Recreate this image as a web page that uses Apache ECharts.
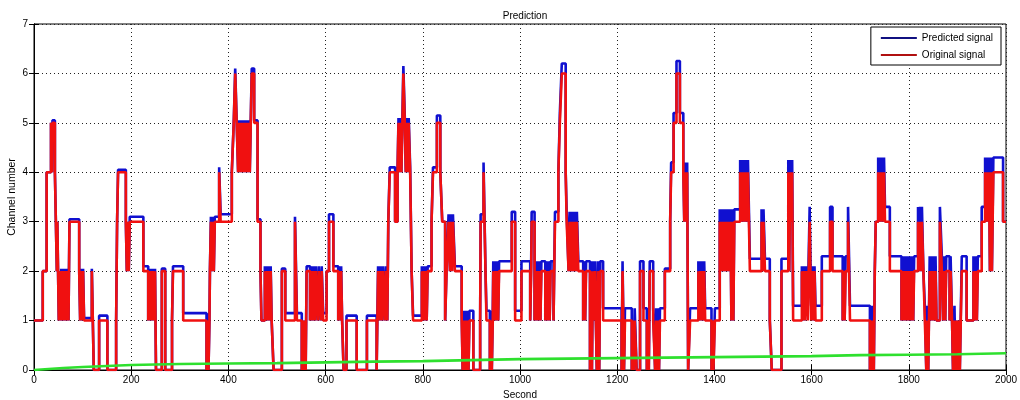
<!DOCTYPE html>
<html>
<head>
<meta charset="utf-8">
<title>Prediction</title>
<script src="https://cdn.jsdelivr.net/npm/echarts@6/dist/echarts.min.js"></script>
<style>
  html, body { margin: 0; padding: 0; background: #fff; }
  #chart { width: 1020px; height: 400px; }
</style>
</head>
<body>
<div id="chart"></div>
<script>
// Breakpoints of the step signals (value holds until the next breakpoint)
const seconds = [
  0, 18, 26, 35, 37, 38, 43, 45, 47, 48, 51, 53,
  54, 56, 57, 59, 61, 63, 65, 66, 68, 70, 71, 73,
  93, 95, 97, 99, 101, 103, 119, 123, 134, 151, 169, 170,
  171, 173, 189, 191, 193, 195, 197, 225, 235, 237, 239, 241,
  243, 245, 247, 249, 251, 263, 270, 284, 286, 307, 355, 357,
  359, 361, 362, 364, 366, 368, 370, 372, 381, 384, 407, 411,
  414, 417, 420, 422, 424, 427, 429, 432, 434, 437, 439, 442,
  444, 446, 448, 453, 460, 466, 468, 475, 477, 479, 481, 483,
  485, 487, 489, 493, 510, 517, 537, 541, 551, 553, 555, 557,
  559, 561, 568, 570, 573, 575, 578, 580, 584, 586, 590, 592,
  595, 602, 607, 616, 626, 628, 630, 632, 634, 637, 643, 664,
  685, 705, 708, 711, 713, 716, 718, 722, 724, 727, 729, 732,
  743, 748, 750, 752, 754, 756, 758, 760, 763, 765, 767, 769,
  771, 774, 777, 780, 798, 800, 802, 804, 806, 808, 810, 818,
  821, 829, 836, 840, 846, 849, 853, 856, 858, 860, 862, 866,
  880, 882, 884, 886, 888, 890, 892, 894, 896, 904, 918, 919,
  925, 929, 931, 938, 940, 942, 944, 945, 947, 949, 951, 953,
  955, 957, 983, 990, 1003, 1021, 1023, 1024, 1030, 1032, 1034, 1036,
  1038, 1040, 1042, 1044, 1052, 1054, 1056, 1058, 1061, 1063, 1069, 1072,
  1079, 1082, 1086, 1094, 1096, 1100, 1102, 1105, 1107, 1110, 1112, 1115,
  1117, 1120, 1130, 1132, 1134, 1136, 1144, 1146, 1148, 1150, 1152, 1154,
  1158, 1160, 1163, 1165, 1171, 1209, 1211, 1214, 1216, 1230, 1232, 1234,
  1236, 1240, 1247, 1254, 1261, 1263, 1265, 1267, 1274, 1278, 1280, 1282,
  1284, 1286, 1288, 1298, 1309, 1311, 1316, 1322, 1329, 1336, 1338, 1340,
  1342, 1344, 1346, 1350, 1367, 1369, 1371, 1373, 1375, 1377, 1379, 1381,
  1394, 1396, 1398, 1401, 1411, 1413, 1415, 1417, 1419, 1421, 1423, 1426,
  1428, 1431, 1433, 1435, 1437, 1439, 1441, 1453, 1455, 1457, 1459, 1461,
  1463, 1465, 1467, 1469, 1473, 1497, 1499, 1501, 1504, 1514, 1518, 1538,
  1552, 1554, 1556, 1558, 1560, 1562, 1580, 1582, 1584, 1586, 1589, 1592,
  1596, 1599, 1602, 1604, 1606, 1608, 1621, 1638, 1643, 1664, 1666, 1668,
  1670, 1675, 1679, 1720, 1722, 1724, 1726, 1728, 1730, 1732, 1737, 1739,
  1741, 1743, 1745, 1747, 1749, 1751, 1761, 1785, 1787, 1789, 1792, 1794,
  1796, 1799, 1801, 1804, 1806, 1809, 1811, 1819, 1821, 1823, 1825, 1827,
  1830, 1833, 1836, 1838, 1840, 1843, 1845, 1847, 1849, 1851, 1853, 1855,
  1857, 1864, 1868, 1871, 1873, 1875, 1877, 1884, 1886, 1889, 1891, 1894,
  1896, 1899, 1901, 1903, 1905, 1909, 1919, 1933, 1935, 1937, 1940, 1942,
  1950, 1957, 1959, 1961, 1963, 1965, 1967, 1969, 1971, 1974, 1994, 2000
];

const original = [
  1, 2, 4, 5, 4, 5, 4, 3, 2, 3, 1, 2,
  1, 2, 1, 2, 1, 2, 1, 2, 1, 2, 1, 3,
  2, 1, 2, 1, 2, 1, 2, 0, 1, 0, 1, 2,
  3, 4, 3, 2, 3, 2, 3, 2, 1, 2, 1, 2,
  1, 2, 1, 2, 0, 2, 0, 1, 2, 1, 0, 1,
  0, 1, 2, 3, 2, 3, 2, 3, 4, 3, 4, 5,
  6, 5, 4, 5, 4, 5, 4, 5, 4, 5, 4, 5,
  4, 5, 6, 5, 3, 2, 1, 2, 1, 2, 1, 2,
  1, 2, 1, 0, 2, 1, 3, 1, 0, 1, 0, 1,
  0, 2, 1, 2, 1, 2, 1, 2, 1, 2, 1, 2,
  1, 2, 3, 2, 1, 2, 1, 2, 1, 0, 1, 0,
  1, 0, 2, 1, 2, 1, 2, 1, 2, 1, 3, 4,
  3, 4, 5, 4, 5, 4, 5, 6, 5, 4, 5, 4,
  5, 4, 2, 1, 2, 1, 2, 1, 2, 1, 2, 3,
  4, 5, 4, 3, 1, 2, 3, 2, 3, 2, 3, 2,
  1, 0, 1, 0, 1, 0, 1, 0, 1, 0, 1, 3,
  4, 2, 1, 0, 1, 0, 1, 2, 1, 2, 1, 2,
  1, 2, 3, 1, 2, 1, 2, 3, 1, 2, 1, 2,
  1, 2, 1, 2, 1, 2, 1, 2, 1, 2, 1, 3,
  4, 5, 6, 4, 3, 2, 3, 2, 3, 2, 3, 2,
  3, 2, 1, 2, 1, 2, 0, 2, 0, 2, 1, 2,
  0, 2, 0, 2, 1, 0, 2, 0, 1, 0, 1, 0,
  1, 0, 2, 1, 0, 1, 0, 2, 1, 0, 1, 0,
  1, 0, 1, 2, 3, 4, 5, 6, 5, 4, 3, 4,
  3, 4, 0, 1, 2, 1, 2, 1, 2, 1, 2, 1,
  0, 1, 0, 1, 3, 2, 3, 2, 3, 2, 3, 2,
  3, 2, 3, 1, 3, 1, 3, 4, 3, 4, 3, 4,
  3, 4, 3, 4, 2, 3, 2, 3, 2, 1, 0, 2,
  4, 2, 4, 3, 4, 1, 2, 1, 2, 1, 2, 1,
  3, 1, 2, 1, 2, 1, 2, 3, 2, 1, 2, 1,
  2, 3, 1, 0, 1, 0, 1, 0, 2, 3, 4, 3,
  4, 3, 4, 3, 4, 3, 2, 1, 2, 1, 2, 1,
  2, 1, 2, 1, 2, 1, 2, 3, 2, 3, 2, 3,
  2, 1, 0, 1, 0, 2, 1, 2, 1, 2, 1, 2,
  1, 3, 2, 1, 2, 1, 2, 1, 2, 1, 0, 1,
  0, 1, 0, 1, 0, 2, 1, 2, 1, 2, 1, 2,
  3, 4, 3, 4, 3, 4, 2, 4, 2, 4, 3, 3
];

const predicted = [
  1, 2, 4, 5, 4, 5.05, 4, 3, 2, 3, 1, 2,
  1, 2.05, 1, 2.05, 1, 2.05, 1, 2.05, 1, 2.05, 1, 3.05,
  2, 1, 2.05, 1, 2.05, 1.05, 2.05, 0, 1.1, 0, 1, 2,
  3, 4.05, 3, 2, 3, 2, 3.1, 2.1, 1, 2.05, 1, 2.05,
  1, 2.05, 1, 2.05, 0, 2.05, 0, 1, 2.1, 1.15, 0, 1.15,
  0, 1, 2, 3.1, 2, 3.1, 2, 3.1, 4.1, 3.15, 4, 5,
  6.1, 5.05, 4, 5.05, 4, 5.05, 4, 5.05, 4, 5.05, 4, 5.05,
  4, 5.05, 6.1, 5.05, 3.05, 2, 1, 2.1, 1, 2.1, 1, 2.1,
  1, 2.1, 1, 0, 2.05, 1.15, 3.1, 1.15, 0, 1, 0, 1,
  0, 2.1, 1, 2.1, 1, 2.1, 1, 2.1, 1, 2.1, 1, 2.1,
  1.15, 2, 3.15, 2.1, 1, 2.1, 1, 2.1, 1, 0, 1.1, 0,
  1.1, 0, 2.1, 1, 2.1, 1, 2.1, 1, 2.1, 1, 3, 4.1,
  3, 4, 5.1, 4, 5.1, 4, 5.1, 6.15, 5.1, 4, 5.1, 4,
  5.1, 4.1, 2, 1.1, 2.1, 1, 2.1, 1, 2.1, 1, 2.1, 3,
  4.1, 5.15, 4, 3, 1, 2.1, 3.15, 2, 3.15, 2, 3.15, 2.1,
  1.2, 0, 1.2, 0, 1.2, 0, 1.2, 0, 1.2, 0, 1, 3.15,
  4.2, 2, 1.2, 0, 1.2, 0, 1.2, 2.2, 1, 2.2, 1, 2.2,
  1, 2.2, 3.2, 1.2, 2.2, 1, 2.2, 3.2, 1, 2.2, 1, 2.2,
  1, 2.2, 1, 2.2, 1, 2.2, 1, 2.2, 1, 2.2, 1, 3.2,
  4, 5.2, 6.2, 4, 3.2, 2, 3.2, 2, 3.2, 2, 3.2, 2,
  3.2, 2.2, 1, 2.2, 1, 2.2, 0, 2.2, 0, 2.2, 1, 2.2,
  0, 2.2, 0, 2.2, 1.25, 0, 2.2, 0, 1.25, 0, 1, 0,
  1.25, 0, 2.2, 1.25, 0, 1, 0, 2.2, 1.25, 0, 1.25, 0,
  1.25, 0, 1.25, 2.05, 3, 4.2, 5.2, 6.25, 5.2, 4.2, 3, 4.2,
  3, 4.2, 0, 1.25, 2.2, 1, 2.2, 1, 2.2, 1, 2.2, 1.25,
  0, 1, 0, 1.25, 3.25, 2, 3.25, 2, 3.25, 2, 3.25, 2,
  3.25, 2, 3.25, 1, 3.25, 1, 3.25, 4.25, 3, 4.25, 3, 4.25,
  3, 4.25, 3, 4.25, 2.25, 3.25, 2, 3.25, 2.25, 1, 0, 2.25,
  4.25, 2, 4.25, 3, 4.25, 1.3, 2.1, 1, 2.1, 1, 2.1, 1.3,
  3.3, 1.3, 2.1, 1, 2.1, 1.3, 2.3, 3.3, 2.3, 1, 2.3, 1,
  2.3, 3.3, 1.3, 0, 1.3, 0, 1.3, 0, 2, 3, 4.3, 3,
  4.3, 3, 4.3, 3, 4.3, 3.3, 2.3, 1, 2.3, 1, 2.3, 1,
  2.3, 1, 2.3, 1, 2.3, 1, 2.3, 3.3, 2, 3.3, 2, 3.3,
  2, 1.3, 0, 1.3, 0, 2.3, 1, 2.3, 1, 2.3, 1, 2.3,
  1, 3.3, 2.3, 1, 2.3, 1, 2.3, 1, 2.3, 1, 0, 1.3,
  0, 1, 0, 1, 0, 2.3, 1, 2.3, 1, 2.3, 1, 2.3,
  3.3, 4.3, 3, 4.3, 3, 4.3, 2, 4.3, 2, 4.3, 3, 3
];

// slowly rising third trace (green)
const errorSeconds = [0, 30, 60, 100, 150, 200, 300, 400, 500, 600, 700, 800,
  900, 1000, 1100, 1200, 1300, 1400, 1500, 1600, 1700, 1800, 1900, 2000];
const errorValues = [0, 0.02, 0.04, 0.06, 0.08, 0.1, 0.12, 0.13, 0.14, 0.155, 0.17, 0.18,
  0.2, 0.22, 0.23, 0.24, 0.25, 0.26, 0.27, 0.28, 0.3, 0.31, 0.32, 0.34];

const xTicks = { min: 0, max: 2000, interval: 200 };
const yTicks = { min: 0, max: 7, interval: 1 };

if (seconds.length !== original.length || seconds.length !== predicted.length) {
  console.warn('length mismatch', seconds.length, original.length, predicted.length);
}

const originalData = seconds.map((t, i) => [t, original[i]]);
const predictedData = seconds.map((t, i) => [t, predicted[i]]);
const errorData = errorSeconds.map((t, i) => [t, errorValues[i]]);

const font = 'Liberation Sans, Arial, sans-serif';
const gridLine = { show: true, lineStyle: { color: '#222', type: [1, 3], width: 1 } };

const chart = echarts.init(document.getElementById('chart'));
chart.setOption({
  animation: false,
  backgroundColor: '#fff',
  title: {
    text: 'Prediction',
    left: 520,
    top: 6,
    textAlign: 'center',
    textStyle: { fontFamily: font, fontSize: 10, fontWeight: 'normal', color: '#000' }
  },
  // y axis title placed by hand (the axis name kept snapping to the edge)
  graphic: [{
    type: 'text',
    x: 12,
    y: 197,
    rotation: Math.PI / 2,
    style: {
      text: 'Channel number',
      align: 'center',
      verticalAlign: 'middle',
      fill: '#000',
      font: '10.5px Liberation Sans, Arial, sans-serif'
    }
  }],
  legend: {
    data: [
      { name: 'Predicted signal', itemStyle: { color: '#101080' } },
      { name: 'Original signal', itemStyle: { color: '#b01010' } }
    ],
    orient: 'vertical',
    right: 19,
    top: 27,
    icon: 'rect',
    itemWidth: 36,
    itemHeight: 2,
    itemGap: 7,
    padding: [6, 8, 5, 10],
    borderColor: '#000',
    borderWidth: 1,
    backgroundColor: '#fff',
    textStyle: { fontFamily: font, fontSize: 10, color: '#000' }
  },
  grid: {
    left: 34, right: 14, top: 24, bottom: 30,
    containLabel: false,
    outerBoundsMode: 'none',
    show: true, borderColor: '#000', borderWidth: 1
  },
  xAxis: [{
    type: 'value',
    min: xTicks.min, max: xTicks.max, interval: xTicks.interval,
    name: 'Second',
    nameLocation: 'middle',
    nameGap: 17,
    nameTextStyle: { fontFamily: font, fontSize: 10, color: '#000' },
    axisLine: { lineStyle: { color: '#000' } },
    axisTick: { inside: true, length: 5, lineStyle: { color: '#000' } },
    axisLabel: { fontFamily: font, fontSize: 10, color: '#000', margin: 5, formatter: v => String(v) },
    splitLine: gridLine
  }, {
    type: 'value', position: 'top',
    min: xTicks.min, max: xTicks.max, interval: xTicks.interval,
    axisLine: { lineStyle: { color: '#000' } },
    axisTick: { inside: true, length: 5, lineStyle: { color: '#000' } },
    axisLabel: { show: false },
    splitLine: { show: false }
  }],
  yAxis: [{
    type: 'value',
    min: yTicks.min, max: yTicks.max, interval: yTicks.interval,
    axisLine: { show: true, lineStyle: { color: '#000' } },
    axisTick: { show: true, inside: true, length: 5, lineStyle: { color: '#000' } },
    axisLabel: { fontFamily: font, fontSize: 10, color: '#000', margin: 6 },
    splitLine: gridLine
  }, {
    type: 'value', position: 'right',
    min: yTicks.min, max: yTicks.max, interval: yTicks.interval,
    axisLine: { show: true, lineStyle: { color: '#000' } },
    axisTick: { show: true, inside: true, length: 5, lineStyle: { color: '#000' } },
    axisLabel: { show: false },
    splitLine: { show: false }
  }],
  series: [
    {
      name: 'Predicted signal',
      type: 'line',
      step: 'end',
      data: predictedData,
      showSymbol: false,
      lineStyle: { color: '#1010d0', width: 2.6 },
      itemStyle: { color: '#1010d0' },
      z: 2
    },
    {
      name: 'Original signal',
      type: 'line',
      step: 'end',
      data: originalData,
      showSymbol: false,
      lineStyle: { color: '#f01010', width: 2.6 },
      itemStyle: { color: '#f01010' },
      z: 3
    },
    {
      name: 'Error',
      type: 'line',
      data: errorData,
      showSymbol: false,
      lineStyle: { color: '#2ee02e', width: 2.6 },
      itemStyle: { color: '#2ee02e' },
      z: 4
    }
  ]
});
</script>
</body>
</html>
